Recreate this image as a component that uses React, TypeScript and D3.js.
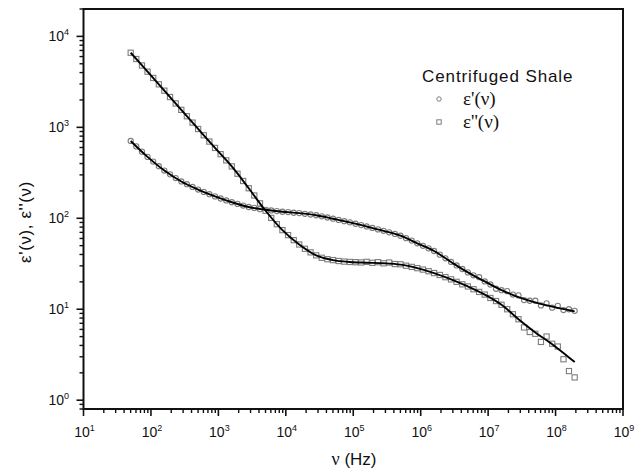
import React from "react";
import * as d3 from "d3";

// Frequencies (Hz) of measured points
const freq = [
  50.1, 60.7, 73.6, 89.1, 108, 131, 158, 192, 233, 282, 341, 414,
  501, 607, 736, 891, 1.08e3, 1.31e3, 1.58e3, 1.92e3, 2.33e3, 2.82e3, 3.41e3, 4.14e3,
  5.01e3, 6.07e3, 7.36e3, 8.91e3, 1.08e4, 1.31e4, 1.58e4, 1.92e4, 2.33e4, 2.82e4, 3.41e4, 4.14e4,
  5.01e4, 6.07e4, 7.36e4, 8.91e4, 1.08e5, 1.31e5, 1.58e5, 1.92e5, 2.33e5, 2.82e5, 3.41e5, 4.14e5,
  5.01e5, 6.07e5, 7.36e5, 8.91e5, 1.08e6, 1.31e6, 1.58e6, 1.92e6, 2.33e6, 2.82e6, 3.41e6, 4.14e6,
  5.01e6, 6.07e6, 7.36e6, 8.91e6, 1.08e7, 1.31e7, 1.58e7, 1.92e7, 2.33e7, 2.82e7, 3.41e7, 4.14e7,
  5.01e7, 6.07e7, 7.36e7, 8.91e7, 1.08e8, 1.31e8, 1.58e8, 1.92e8,
];
// ε'(ν) measured
const eps1 = [
  708, 617, 540, 473, 420, 374, 335, 304, 277, 254, 237, 221,
  207, 195, 184, 174, 165, 157, 150, 144, 138, 133, 130, 126,
  124, 122, 120, 118, 117, 115, 114, 112, 110, 108, 105, 102,
  98.9, 95.9, 92.9, 90.2, 87.1, 84.1, 81.3, 78.3, 75.5, 72.8, 70.0, 67.3,
  64.3, 60.5, 56.8, 53.1, 49.8, 46.7, 43.7, 39.8, 36.3, 33.1, 30.3, 27.7,
  25.4, 23.6, 22.5, 20.2, 18.7, 16.8, 16.2, 15.8, 14.5, 14.2, 12.6, 12.4,
  12.4, 11.0, 11.6, 10.4, 10.9, 9.8, 10.0, 9.6,
];
// ε''(ν) measured
const eps2 = [
  6607, 5636, 4786, 4093, 3491, 2972, 2529, 2153, 1832, 1556, 1324, 1127,
  959, 818, 697, 594, 507, 433, 372, 309, 257, 214, 178, 146,
  121, 101, 86.1, 74.1, 65.3, 57.5, 51.5, 46.2, 42.2, 39.1, 36.8, 35.5,
  34.7, 33.9, 33.4, 33.1, 32.9, 32.7, 33.2, 32.4, 32.9, 32.0, 32.6, 31.4,
  31.2, 30.1, 29.2, 28.3, 27.3, 26.2, 25.0, 23.8, 22.5, 21.3, 20.0, 18.8,
  17.8, 16.6, 15.5, 14.5, 13.3, 12.3, 11.2, 10.0, 8.81, 7.76, 6.31, 5.62,
  5.37, 4.37, 5.01, 4.17, 3.89, 2.82, 2.09, 1.78,
];
// Fit curves
const fitFreq = [
  50.1, 89.1, 158, 282, 501, 891, 1580, 2820, 5010, 8910, 1.58e4, 2.82e4, 5.01e4, 8.91e4,
  1.58e5, 2.82e5, 5.01e5, 8.91e5, 1.58e6, 2.82e6, 5.01e6, 8.91e6, 1.58e7, 2.82e7, 5.01e7, 8.91e7, 1.58e8, 1.92e8,
];
const fitEps1 = [
  708, 473, 335, 254, 207, 174, 150, 133, 124, 118, 114, 108, 98.9, 90.2,
  81.3, 72.8, 64.3, 53.1, 43.7, 33.1, 25.4, 20.2, 16.2, 13.6, 11.9, 10.7, 9.77, 9.48,
];
const fitEps2 = [
  6607, 4093, 2529, 1556, 959, 594, 372, 214, 121, 74.1, 51.5, 39.1, 34.7, 33.1,
  32.5, 32.0, 30.9, 28.3, 25.0, 21.3, 17.8, 14.5, 11.2, 7.76, 5.56, 4.12, 2.95, 2.63,
];
const xDecades = [1, 2, 3, 4, 5, 6, 7, 8, 9];
const yDecades = [0, 1, 2, 3, 4];
const legendTitle = "Centrifuged Shale";
const legendLabels = ["ε'(ν)", "ε''(ν)"];

export default function App() {
  const L = 83.5, R = 623, T = 9, B = 409;
  const x = d3.scaleLog().domain([10, 1e9]).range([L, R]);
  const y = d3.scaleLog().domain([0.8, 2e4]).range([B, T]);
  const sans = "Arial, 'Liberation Sans', sans-serif";
  const serif = "'Times New Roman', 'Liberation Serif', serif";

  const xMinor: number[] = [];
  for (let d = 1; d < 9; d++) for (let m = 2; m <= 9; m++) xMinor.push(m * Math.pow(10, d));
  const yMinor: number[] = [0.8, 0.9];
  for (let d = 0; d < 5; d++) for (let m = 2; m <= 9; m++) {
    const v = m * Math.pow(10, d);
    if (v <= 2e4) yMinor.push(v);
  }

  const line = d3
    .line<[number, number]>()
    .x((d) => x(d[0]))
    .y((d) => y(d[1]))
    .curve(d3.curveCatmullRom.alpha(0.5));
  const fit1 = line(fitFreq.map((f, i) => [f, fitEps1[i]]));
  const fit2 = line(fitFreq.map((f, i) => [f, fitEps2[i]]));

  const mColor = "#7d7d7d";
  return (
    <svg
      width={643}
      height={471}
      style={{ position: "absolute", left: 0, top: 0, background: "#fff" }}
      fontFamily={sans}
    >
      {/* markers */}
      {freq.map((f, i) => (
        <circle key={"c" + i} cx={x(f)} cy={y(eps1[i])} r={2.6} fill="#fff" stroke={mColor} strokeWidth={1.1} />
      ))}
      {freq.map((f, i) => (
        <rect key={"s" + i} x={x(f) - 2.6} y={y(eps2[i]) - 2.6} width={5.2} height={5.2} fill="#fff" stroke={mColor} strokeWidth={1.1} />
      ))}
      {/* fit lines */}
      <path d={fit1 || ""} fill="none" stroke="#000" strokeWidth={1.9} />
      <path d={fit2 || ""} fill="none" stroke="#000" strokeWidth={1.9} />

      {/* frame */}
      <rect x={L} y={T} width={R - L} height={B - T} fill="none" stroke="#111" strokeWidth={2} />

      {/* x ticks */}
      {xMinor.map((v, i) => (
        <line key={"xm" + i} x1={x(v)} x2={x(v)} y1={B} y2={B + 4} stroke="#111" strokeWidth={1.4} />
      ))}
      {xDecades.map((d) => (
        <g key={"xd" + d}>
          <line x1={x(Math.pow(10, d))} x2={x(Math.pow(10, d))} y1={B} y2={B + 7} stroke="#111" strokeWidth={1.6} />
          <text x={x(Math.pow(10, d)) + 1} y={437} fontSize={14} textAnchor="middle" fill="#111">
            10<tspan dy={-6} fontSize={9}>{d}</tspan>
          </text>
        </g>
      ))}
      {/* y ticks */}
      {yMinor.map((v, i) => (
        <line key={"ym" + i} x1={L - 4} x2={L} y1={y(v)} y2={y(v)} stroke="#111" strokeWidth={1.4} />
      ))}
      {yDecades.map((d) => (
        <g key={"yd" + d}>
          <line x1={L - 7} x2={L} y1={y(Math.pow(10, d))} y2={y(Math.pow(10, d))} stroke="#111" strokeWidth={1.6} />
          <text x={69} y={y(Math.pow(10, d)) + 5} fontSize={14} textAnchor="end" fill="#111">
            10<tspan dy={-6} fontSize={9}>{d}</tspan>
          </text>
        </g>
      ))}

      {/* axis titles */}
      <text x={354} y={465} fontSize={17} textAnchor="middle" fill="#111">
        <tspan fontFamily={serif} fontSize={18}>ν</tspan> (Hz)
      </text>
      <text transform="translate(31,222) rotate(-90)" fontSize={17} textAnchor="middle" fill="#111" letterSpacing={0.6}>
        ε'(ν), ε''(ν)
      </text>

      {/* legend */}
      <text x={422} y={82} fontSize={17} fill="#111" letterSpacing={0.9}>{legendTitle}</text>
      <circle cx={439} cy={99} r={2.2} fill="#fff" stroke={mColor} strokeWidth={1} />
      <text x={463} y={105} fontSize={19} fontFamily={serif} fill="#111">{legendLabels[0]}</text>
      <rect x={436.8} y={119.8} width={4.4} height={4.4} fill="#fff" stroke={mColor} strokeWidth={1} />
      <text x={463} y={128} fontSize={19} fontFamily={serif} fill="#111">{legendLabels[1]}</text>
    </svg>
  );
}
